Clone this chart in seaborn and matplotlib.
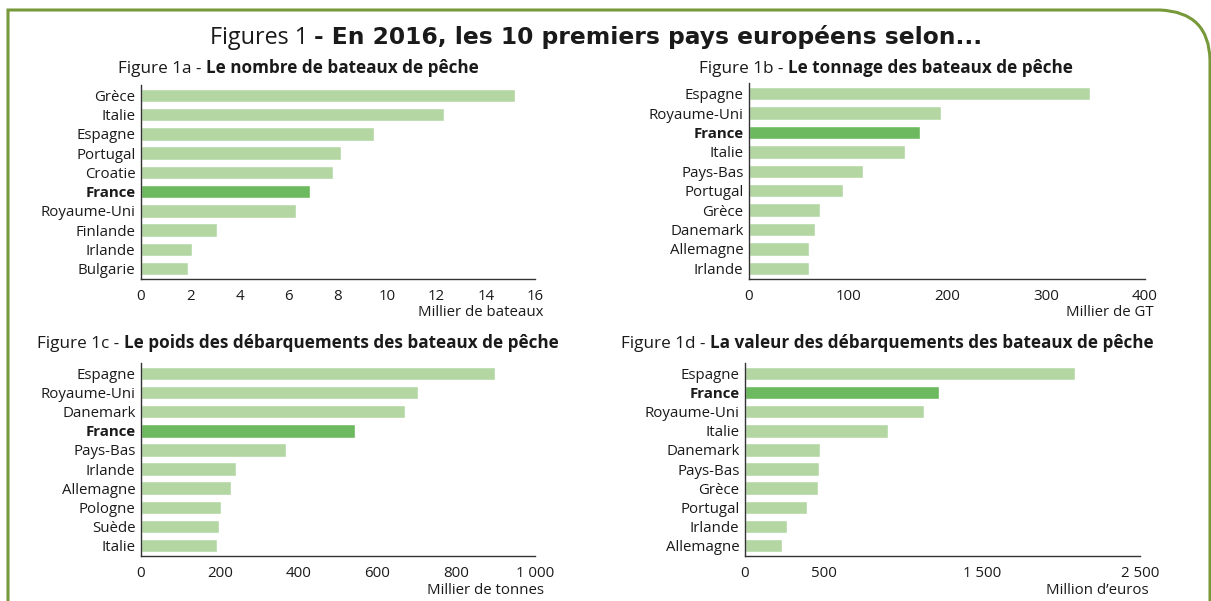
import numpy as np
import pandas as pd
import matplotlib
matplotlib.use("Agg")
import matplotlib.pyplot as plt
import seaborn as sns
from matplotlib.path import Path
from matplotlib.patches import PathPatch

# data
pays_a = ["Grèce", "Italie", "Espagne", "Portugal", "Croatie", "France",
          "Royaume-Uni", "Finlande", "Irlande", "Bulgarie"]
bateaux = [15.2, 12.3, 9.47, 8.12, 7.78, 6.87, 6.31, 3.09, 2.08, 1.91]

pays_b = ["Espagne", "Royaume-Uni", "France", "Italie", "Pays-Bas", "Portugal",
          "Grèce", "Danemark", "Allemagne", "Irlande"]
tonnage = [344, 194, 173, 158, 115, 95, 72, 67, 61, 61]

pays_c = ["Espagne", "Royaume-Uni", "Danemark", "France", "Pays-Bas", "Irlande",
          "Allemagne", "Pologne", "Suède", "Italie"]
poids = [899, 704, 671, 542, 369, 242, 229, 202, 199, 194]

pays_d = ["Espagne", "France", "Royaume-Uni", "Italie", "Danemark", "Pays-Bas",
          "Grèce", "Portugal", "Irlande", "Allemagne"]
valeur = [2089, 1226, 1130, 907, 477, 470, 465, 393, 267, 235]

LIGHT = "#b3d6a2"
DARK = "#6db95f"
BORDER = "#78993a"
TXT = "#1a1a1a"

sns.set_style("white")
plt.rcParams["font.family"] = ["Open Sans", "DejaVu Sans"]

W, H = 1211, 601
fig = plt.figure(figsize=(W / 100, H / 100), dpi=100)


def px_axes(left, right, top, bottom):
    return fig.add_axes([left / W, 1 - bottom / H, (right - left) / W, (bottom - top) / H])


def two_part(x, y, normal, bold, size, bold_family=None):
    # draw "normal" + "bold" centred on x (pixel coords, y = baseline)
    r = fig.canvas.get_renderer()
    kw = dict(fontsize=size, color=TXT, va="baseline", transform=None)
    t1 = fig.text(0, 0, normal, **kw)
    t2 = fig.text(0, 0, bold, fontweight="bold", **kw)
    if bold_family:
        t2.set_family(bold_family)
    w1 = t1.get_window_extent(r).width
    w2 = t2.get_window_extent(r).width
    x0 = x - (w1 + w2) / 2
    t1.set_position((x0, H - y))
    t2.set_position((x0 + w1, H - y))


def panel(ax, pays, vals, xmax, step, labels, unit):
    df = pd.DataFrame({"pays": pays, "val": vals})
    cols = {p: (DARK if p == "France" else LIGHT) for p in pays}
    sns.barplot(data=df, x="val", y="pays", hue="pays", palette=cols,
                legend=False, width=0.7, saturation=1, ax=ax)
    ax.set_xlim(0, xmax)
    ax.set_ylim(9.55, -0.55)
    ticks = np.arange(0, xmax + step / 2, step)
    ax.set_xticks(ticks)
    ax.set_xticklabels(labels)
    sns.despine(ax=ax)
    for s in ("left", "bottom"):
        ax.spines[s].set_color("#333333")
        ax.spines[s].set_linewidth(1.0)
    ax.tick_params(axis="x", direction="out", length=4, width=1, color="#333333",
                   labelsize=10.8, labelcolor=TXT, pad=3)
    ax.tick_params(axis="y", length=0, labelsize=10.8, labelcolor=TXT, pad=4)
    for lab in ax.get_yticklabels():
        if lab.get_text() == "France":
            lab.set_fontweight("bold")
    ax.set_xlabel("")
    ax.set_ylabel("")
    # unit label under the right end of the axis
    bb = ax.get_position()
    fig.text(bb.x1 + 9 / W, bb.y0 - 32 / H, unit, ha="right",
             va="center_baseline", fontsize=10.8, color=TXT)


ax_a = px_axes(141, 535, 85, 279)
panel(ax_a, pays_a, bateaux, 16, 2, [str(v) for v in range(0, 17, 2)],
      "Millier de bateaux")

ax_b = px_axes(749, 1145, 83, 279)
panel(ax_b, pays_b, tonnage, 400, 50,
      [str(v) if v % 100 == 0 else "" for v in range(0, 401, 50)],
      "Millier de GT")

ax_c = px_axes(141, 535, 363, 556)
panel(ax_c, pays_c, poids, 1000, 100,
      ["0", "", "200", "", "400", "", "600", "", "800", "", "1 000"],
      "Millier de tonnes")

ax_d = px_axes(745, 1140, 363, 556)
panel(ax_d, pays_d, valeur, 2500, 500,
      ["0", "500", "", "1 500", "", "2 500"],
      "Million d\u2019euros")

# titles
fig.canvas.draw()
two_part(596, 44, "Figures 1 ", "- En 2016, les 10 premiers pays européens selon...",
         16.8, bold_family="DejaVu Sans")
two_part(298, 73, "Figure 1a - ", "Le nombre de bateaux de pêche", 12.3)
two_part(886, 73, "Figure 1b - ", "Le tonnage des bateaux de pêche", 12.3)
two_part(298, 348, "Figure 1c - ", "Le poids des débarquements des bateaux de pêche", 12.3)
two_part(887, 348, "Figure 1d - ", "La valeur des débarquements des bateaux de pêche", 12.3)

# green frame with rounded top-right corner
verts = [(8, H + 5), (8, 10), (1160, 10), (1209, 12), (1210, 60), (1210, H + 5)]
codes = [Path.MOVETO, Path.LINETO, Path.LINETO, Path.CURVE3, Path.CURVE3, Path.LINETO]
pts = [(x, H - y) for x, y in verts]
frame = PathPatch(Path(pts, codes), fill=False, edgecolor=BORDER, linewidth=2.2,
                  transform=None, clip_on=False)
fig.patches.append(frame)

fig.savefig("out.png", dpi=100)
